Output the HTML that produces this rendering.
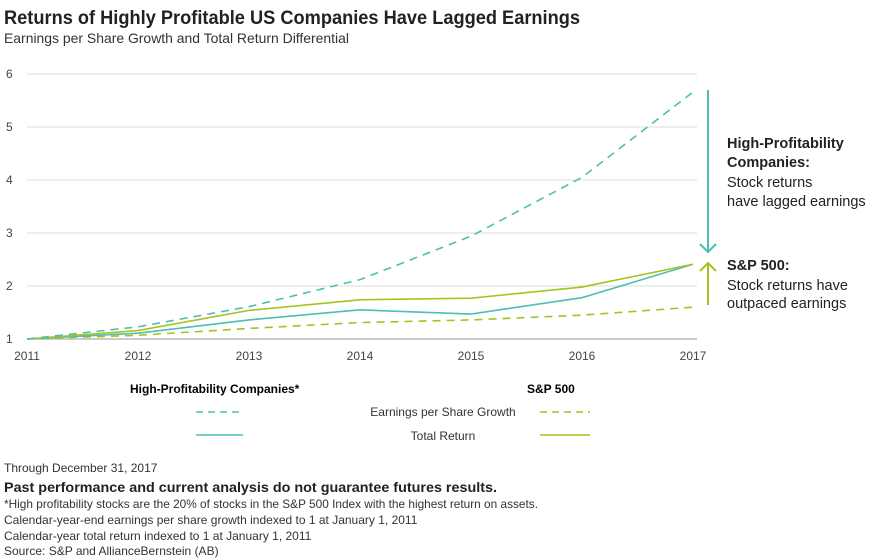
<!DOCTYPE html>
<html><head><meta charset="utf-8">
<style>
body{margin:0;width:880px;height:558px;background:#fff;font-family:"Liberation Sans",sans-serif;color:#222;overflow:hidden}
svg{display:block}
</style></head>
<body>
<svg width="880" height="558" id="c">
<text x="4" y="24" font-size="19" font-weight="bold" fill="#222" textLength="576" lengthAdjust="spacingAndGlyphs">Returns of Highly Profitable US Companies Have Lagged Earnings</text>
<text x="4" y="43" font-size="14" fill="#333" textLength="345" lengthAdjust="spacingAndGlyphs">Earnings per Share Growth and Total Return Differential</text>
<g id="grid"></g><g id="series"></g>
<line x1="708" y1="90" x2="708" y2="252" stroke="#4dbfb0" stroke-width="2"/>
<polyline points="700,244 708,252 716,244" fill="none" stroke="#4dbfb0" stroke-width="2"/>
<line x1="708" y1="305" x2="708" y2="263" stroke="#a9c11f" stroke-width="2"/>
<polyline points="700,271 708,263 716,271" fill="none" stroke="#a9c11f" stroke-width="2"/>
<g font-size="14.5" fill="#222">
<text x="727" y="148" font-weight="bold">High-Profitability</text>
<text x="727" y="167" font-weight="bold">Companies:</text>
<text x="727" y="187">Stock returns</text>
<text x="727" y="206">have lagged earnings</text>
<text x="727" y="270" font-weight="bold">S&amp;P 500:</text>
<text x="727" y="290">Stock returns have</text>
<text x="727" y="308">outpaced earnings</text>
</g>
<g font-size="12">
<text x="130" y="393" font-weight="bold">High-Profitability Companies*</text>
<text x="527" y="393" font-weight="bold">S&amp;P 500</text>
<line x1="196" y1="412" x2="243" y2="412" stroke="#4dbfb0" stroke-width="1.5" stroke-dasharray="7,5"/>
<text x="443" y="416" text-anchor="middle" fill="#333">Earnings per Share Growth</text>
<line x1="540" y1="412" x2="590" y2="412" stroke="#a9c11f" stroke-width="1.5" stroke-dasharray="7,5"/>
<line x1="196" y1="435" x2="243" y2="435" stroke="#4dbfb0" stroke-width="1.5"/>
<text x="443" y="440" text-anchor="middle" fill="#333">Total Return</text>
<line x1="540" y1="435" x2="590" y2="435" stroke="#a9c11f" stroke-width="1.5"/>
</g>
<g font-size="12" fill="#333">
<text x="4" y="472">Through December 31, 2017</text>
<text x="4" y="492" font-size="14" font-weight="bold" fill="#222" textLength="493" lengthAdjust="spacingAndGlyphs">Past performance and current analysis do not guarantee futures results.</text>
<text x="4" y="508" textLength="534" lengthAdjust="spacingAndGlyphs">*High profitability stocks are the 20% of stocks in the S&amp;P 500 Index with the highest return on assets.</text>
<text x="4" y="524">Calendar-year-end earnings per share growth indexed to 1 at January 1, 2011</text>
<text x="4" y="540">Calendar-year total return indexed to 1 at January 1, 2011</text>
<text x="4" y="555">Source: S&amp;P and AllianceBernstein (AB)</text>
</g>
</svg>
<script>
const years=[2011,2012,2013,2014,2015,2016,2017];
const yTicks=[1,2,3,4,5,6];
const hpEps=[1,1.23,1.61,2.12,2.94,4.05,5.66];
const hpRet=[1,1.11,1.36,1.55,1.47,1.78,2.41];
const spEps=[1,1.07,1.2,1.31,1.36,1.45,1.6];
const spRet=[1,1.16,1.54,1.74,1.77,1.98,2.41];
const NS="http://www.w3.org/2000/svg";
const X=v=>27+(v-2011)*111, Y=v=>339-(v-1)*53;
const g=document.getElementById('grid'), s=document.getElementById('series');
function mk(tag,attrs,parent){const e=document.createElementNS(NS,tag);for(const k in attrs)e.setAttribute(k,attrs[k]);parent.appendChild(e);return e;}
yTicks.forEach(t=>{
 const l=mk('line',{x1:27,x2:697,y1:Y(t),y2:Y(t),stroke:t===1?'#bbb':'#ddd','stroke-width':t===1?1.5:1},g);
 
 
 const tx=mk('text',{x:6,y:Y(t)+4,'font-size':12,fill:'#444'},g);tx.textContent=t;
 
 
});
years.forEach(y=>{
 const tx=mk('text',{x:X(y),y:360,'font-size':12,fill:'#444','text-anchor':'middle'},g);tx.textContent=y;
 
 
});
function line(data,color,dash,name){
 const p=mk('polyline',{points:data.map((v,i)=>X(years[i])+','+Y(v)).join(' '),fill:'none',stroke:color,'stroke-width':1.6},s);
 if(dash)p.setAttribute('stroke-dasharray','8,6');
 
 
}
line(spEps,'#a9c11f',true,'sp500-eps-line');
line(hpRet,'#4dbfb0',false,'hp-total-return-line');
line(spRet,'#a9c11f',false,'sp500-total-return-line');
line(hpEps,'#4dbfb0',true,'hp-eps-line');
</script>
</body></html>
